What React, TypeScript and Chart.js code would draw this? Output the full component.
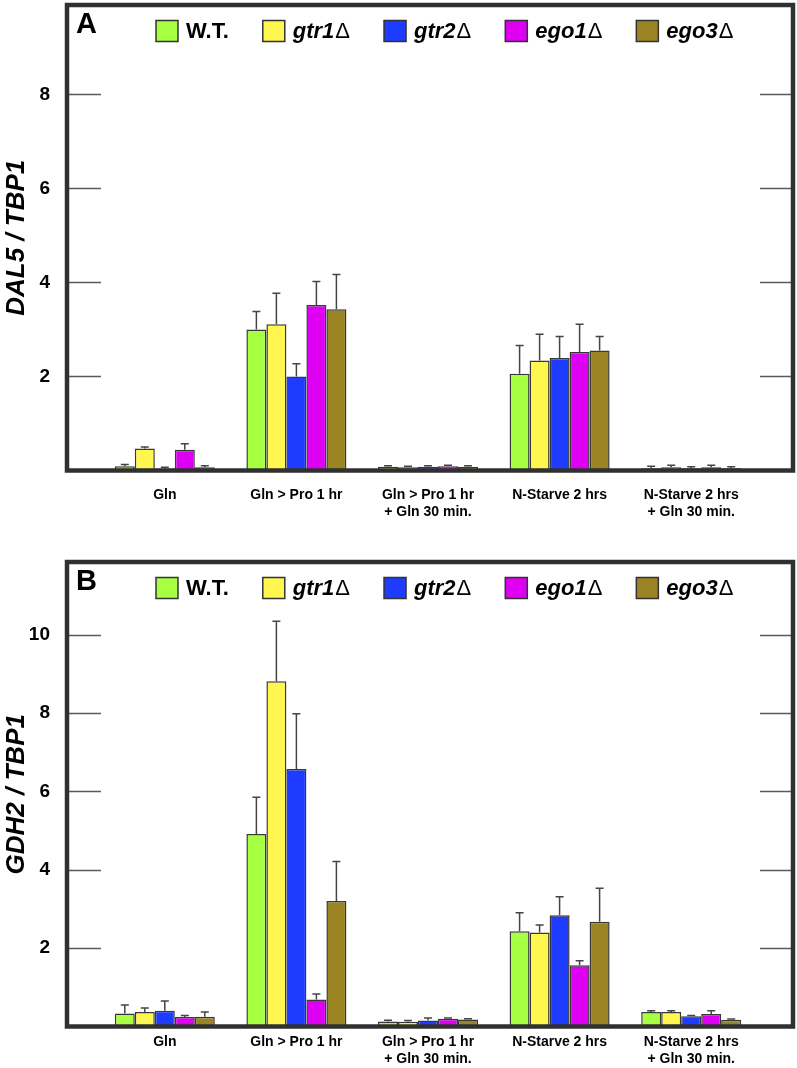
import React, { useEffect, useRef } from 'react';
import { Chart, registerables } from 'chart.js';

Chart.register(...registerables);

// ---------- data ----------
const categories: string[][] = [
  ['Gln'],
  ['Gln > Pro 1 hr'],
  ['Gln > Pro 1 hr', '+ Gln 30 min.'],
  ['N-Starve 2 hrs'],
  ['N-Starve 2 hrs', '+ Gln 30 min.'],
];

const strainNames = ['W.T.', 'gtr1', 'gtr2', 'ego1', 'ego3'];
const strainDelta = [false, true, true, true, true];
const strainColors = ['#A6FF40', '#FFF64F', '#1E3CFF', '#DE00F2', '#9A8424'];

// DAL5 / TBP1 (panel A), one array per strain across the five conditions
const dal5WT = [0.09, 3.0, 0.08, 2.06, 0.05];
const dal5Gtr1 = [0.47, 3.11, 0.07, 2.34, 0.07];
const dal5Gtr2 = [0.04, 2.0, 0.08, 2.39, 0.05];
const dal5Ego1 = [0.44, 3.52, 0.09, 2.52, 0.07];
const dal5Ego3 = [0.07, 3.43, 0.08, 2.55, 0.05];

const dal5ErrWT = [0.04, 0.38, 0.02, 0.6, 0.04];
const dal5ErrGtr1 = [0.03, 0.66, 0.02, 0.56, 0.04];
const dal5ErrGtr2 = [0.03, 0.27, 0.02, 0.46, 0.03];
const dal5ErrEgo1 = [0.13, 0.5, 0.02, 0.59, 0.04];
const dal5ErrEgo3 = [0.03, 0.74, 0.02, 0.3, 0.03];

// GDH2 / TBP1 (panel B)
const gdh2WT = [0.33, 4.91, 0.13, 2.43, 0.37];
const gdh2Gtr1 = [0.37, 8.81, 0.12, 2.4, 0.37];
const gdh2Gtr2 = [0.4, 6.57, 0.15, 2.84, 0.26];
const gdh2Ego1 = [0.24, 0.69, 0.2, 1.56, 0.32];
const gdh2Ego3 = [0.25, 3.2, 0.18, 2.67, 0.17];

const gdh2ErrWT = [0.22, 0.94, 0.03, 0.47, 0.03];
const gdh2ErrGtr1 = [0.1, 1.53, 0.03, 0.19, 0.03];
const gdh2ErrGtr2 = [0.25, 1.41, 0.07, 0.47, 0.02];
const gdh2ErrEgo1 = [0.04, 0.14, 0.02, 0.12, 0.08];
const gdh2ErrEgo3 = [0.12, 1.01, 0.02, 0.86, 0.02];

const yTicksA = [2, 4, 6, 8];
const yTicksB = [2, 4, 6, 8, 10];

const FONT = '"Liberation Sans", Arial, Helvetica, sans-serif';

type PanelProps = {
  letter: string;
  yTitle: string;
  values: number[][];
  errors: number[][];
  yMax: number;
  yTicks: number[];
  height: number;
  areaTop: number;
  areaBottom: number;
  labelPad: number;
};

function Panel(props: PanelProps) {
  const ref = useRef<HTMLCanvasElement>(null);
  useEffect(() => {
    const { letter, yTitle, values, errors, yMax, yTicks, height, areaTop, areaBottom, labelPad } = props;
    const canvas = ref.current!;
    const decor = {
      id: 'panelDecor',
      afterDatasetsDraw(chart: any) {
        const ctx = chart.ctx;
        const ys = chart.scales.y;
        ctx.save();
        ctx.strokeStyle = '#454545';
        ctx.lineWidth = 1.5;
        chart.data.datasets.forEach((_ds: any, di: number) => {
          const meta = chart.getDatasetMeta(di);
          meta.data.forEach((bar: any, i: number) => {
            const v = values[di][i];
            const e = errors[di][i];
            const y0 = ys.getPixelForValue(v);
            const y1 = ys.getPixelForValue(v + e);
            ctx.beginPath();
            ctx.moveTo(bar.x, y0);
            ctx.lineTo(bar.x, y1);
            ctx.moveTo(bar.x - 4, y1);
            ctx.lineTo(bar.x + 4, y1);
            ctx.stroke();
          });
        });
        ctx.restore();
      },
      afterDraw(chart: any) {
        const { ctx, chartArea } = chart;
        const ys = chart.scales.y;
        const L = 67;
        const R = 793;
        ctx.save();
        // inner tick marks, left and right
        ctx.strokeStyle = '#5a5a5a';
        ctx.lineWidth = 1.5;
        ys.ticks.forEach((t: any) => {
          const y = Math.round(ys.getPixelForValue(t.value)) + 0.5;
          ctx.beginPath();
          ctx.moveTo(L, y);
          ctx.lineTo(101, y);
          ctx.moveTo(760, y);
          ctx.lineTo(R, y);
          ctx.stroke();
        });
        // frame
        ctx.strokeStyle = '#303030';
        ctx.lineWidth = 4.5;
        ctx.strokeRect(L, chartArea.top, R - L, chartArea.bottom - chartArea.top);
        // panel letter
        ctx.fillStyle = '#000';
        ctx.textBaseline = 'alphabetic';
        ctx.textAlign = 'left';
        ctx.font = `bold 29px ${FONT}`;
        ctx.fillText(letter, 76, chartArea.top + 28);
        // legend
        let x = 156;
        const cy = chartArea.top + 26;
        chart.data.datasets.forEach((ds: any, i: number) => {
          ctx.fillStyle = ds.backgroundColor;
          ctx.fillRect(x, cy - 10.5, 22, 21);
          ctx.strokeStyle = '#333';
          ctx.lineWidth = 1.5;
          ctx.strokeRect(x, cy - 10.5, 22, 21);
          let tx = x + 30;
          ctx.fillStyle = '#000';
          ctx.textBaseline = 'middle';
          ctx.font = strainDelta[i] ? `italic bold 22px ${FONT}` : `bold 22px ${FONT}`;
          ctx.fillText(ds.label, tx, cy + 1);
          tx += ctx.measureText(ds.label).width;
          if (strainDelta[i]) {
            ctx.font = `22px ${FONT}`;
            ctx.fillText('\u0394', tx + 1, cy + 1);
            tx += ctx.measureText('\u0394').width + 1;
          }
          x = tx + 34;
        });
        ctx.restore();
      },
    };

    const chart = new Chart(canvas, {
      type: 'bar',
      data: {
        labels: categories,
        datasets: strainNames.map((name, i) => ({
          label: name,
          data: values[i],
          backgroundColor: strainColors[i],
          borderColor: '#383838',
          borderWidth: 1.5,
          barPercentage: 1.0,
          categoryPercentage: 0.76,
        })),
      },
      options: {
        responsive: false,
        animation: false,
        devicePixelRatio: 1,
        layout: { autoPadding: false, padding: { left: 0, right: 40, top: areaTop, bottom: 0 } },
        plugins: {
          legend: { display: false },
          tooltip: { enabled: false },
        },
        scales: {
          x: {
            grid: { display: false },
            border: { display: false },
            ticks: {
              color: '#000',
              padding: labelPad,
              maxRotation: 0,
              autoSkip: false,
              font: { family: FONT, size: 14, weight: 'bold', lineHeight: 1.2 },
            },
            afterFit: (s: any) => {
              s.height = height - areaBottom;
              s.paddingLeft = 0;
              s.paddingRight = 0;
            },
          },
          y: {
            min: 0,
            max: yMax,
            grid: { display: false },
            border: { display: false },
            afterBuildTicks: (s: any) => {
              s.ticks = yTicks.map((v) => ({ value: v }));
            },
            ticks: {
              color: '#000',
              padding: 41,
              font: { family: FONT, size: 19, weight: 'bold' },
            },
            title: {
              display: true,
              text: yTitle,
              color: '#000',
              padding: { top: 1, bottom: 0 },
              font: { family: FONT, size: 26, weight: 'bold', style: 'italic', lineHeight: 1.2 },
            },
            afterFit: (s: any) => {
              s.width = 99;
              s.paddingTop = 0;
              s.paddingBottom = 0;
            },
          },
        },
      } as any,
      plugins: [decor],
    });
    return () => chart.destroy();
  }, []);
  return <canvas ref={ref} width={797} height={props.height} style={{ display: 'block', width: 797, height: props.height }} />;
}

export default function App() {
  return (
    <div style={{ position: 'absolute', left: 0, top: 0, width: 797, height: 1068, background: '#fff' }}>
      <div style={{ position: 'absolute', left: 0, top: 0 }}>
        <Panel
          letter="A"
          yTitle="DAL5 / TBP1"
          values={[dal5WT, dal5Gtr1, dal5Gtr2, dal5Ego1, dal5Ego3]}
          errors={[dal5ErrWT, dal5ErrGtr1, dal5ErrGtr2, dal5ErrEgo1, dal5ErrEgo3]}
          yMax={9.9}
          yTicks={yTicksA}
          height={540}
          areaTop={5}
          areaBottom={470.5}
          labelPad={8}
        />
      </div>
      <div style={{ position: 'absolute', left: 0, top: 540 }}>
        <Panel
          letter="B"
          yTitle="GDH2 / TBP1"
          values={[gdh2WT, gdh2Gtr1, gdh2Gtr2, gdh2Ego1, gdh2Ego3]}
          errors={[gdh2ErrWT, gdh2ErrGtr1, gdh2ErrGtr2, gdh2ErrEgo1, gdh2ErrEgo3]}
          yMax={11.85}
          yTicks={yTicksB}
          height={528}
          areaTop={22}
          areaBottom={486.5}
          labelPad={-1}
        />
      </div>
    </div>
  );
}
